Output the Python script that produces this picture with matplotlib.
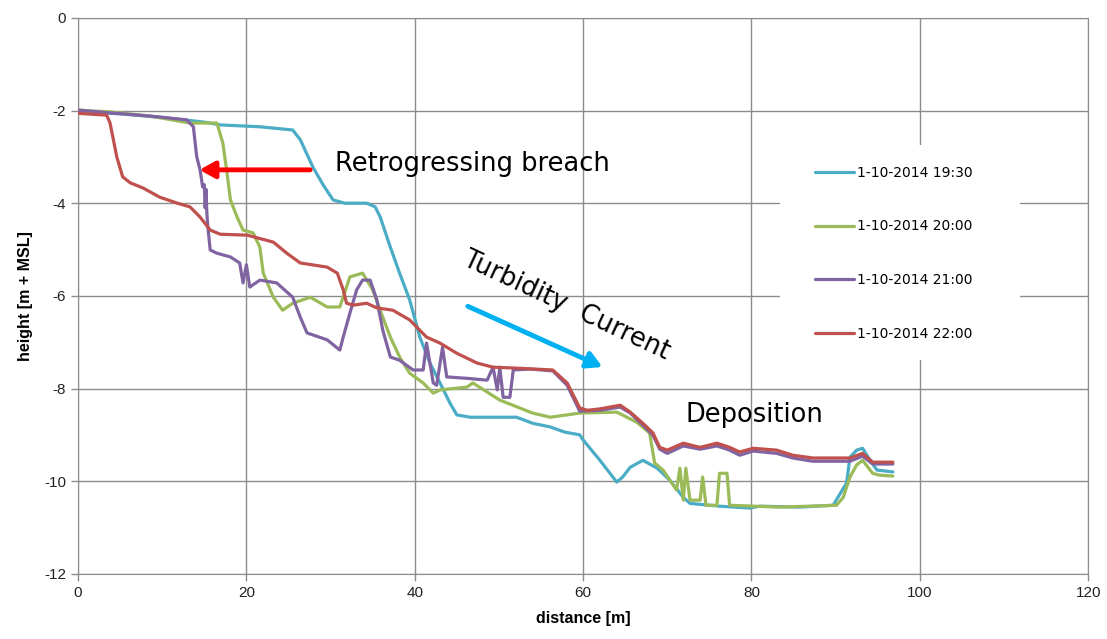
import numpy as np
import matplotlib
matplotlib.use("Agg")
from matplotlib import pyplot as plt
from matplotlib.patches import Rectangle

# profile 1-10-2014 19:30
x_1930 = [0, 2.6, 5, 10, 15, 16.9, 19.2, 21.6, 25.5, 26.4, 27.9, 29.1, 30.3, 31.7, 34.3, 35.3,
          35.9, 37.1, 38.2, 39.4, 40.6, 41.8, 43.0, 44.2, 45.0, 46.6, 50.1, 52.1, 54.0, 56.1,
          57.8, 59.6, 60.0, 62.0, 64.0, 64.7, 65.6, 67.1, 68.8, 70.3, 71.9, 72.7, 76.2, 79.8,
          81.0, 85.7, 89.7, 91.3, 91.7, 92.5, 93.2, 94.1, 94.9, 96.8]
y_1930 = [-2.0, -2.05, -2.07, -2.15, -2.25, -2.31, -2.33, -2.35, -2.42, -2.63, -3.22, -3.6, -3.93,
          -4.0, -4.0, -4.08, -4.3, -4.95, -5.51, -6.09, -6.89, -7.45, -7.88, -8.32, -8.57, -8.62,
          -8.62, -8.62, -8.75, -8.83, -8.94, -9.0, -9.11, -9.55, -10.02, -9.91, -9.7, -9.55,
          -9.72, -9.98, -10.35, -10.48, -10.54, -10.58, -10.54, -10.56, -10.52, -10.04, -9.48,
          -9.33, -9.29, -9.55, -9.76, -9.8]

# profile 1-10-2014 20:00
x_2000 = [0, 3.8, 8.6, 13.3, 16.5, 17.2, 17.7, 18.1, 18.9, 19.6, 20.8, 21.6, 22.0, 23.2, 24.3,
          25.5, 27.6, 29.6, 31.1, 32.3, 33.8, 35.0, 36.2, 37.1, 38.2, 39.4, 41.0, 42.2, 43.0,
          46.2, 46.9, 50.1, 54.0, 56.1, 59.6, 64.0, 66.4, 67.9, 68.5, 69.5, 71.1, 71.5, 71.9,
          72.2, 72.7, 73.9, 74.2, 74.6, 75.9, 76.2, 77.1, 77.4, 83.4, 90.1, 90.9, 91.7, 92.5,
          93.2, 94.4, 95.2, 96.8]
y_2000 = [-1.99, -2.03, -2.12, -2.27, -2.27, -2.7, -3.35, -3.93, -4.3, -4.58, -4.64, -4.95, -5.51,
          -6.03, -6.31, -6.16, -6.03, -6.24, -6.24, -5.59, -5.51, -5.87, -6.46, -6.89, -7.32,
          -7.67, -7.88, -8.1, -8.03, -7.97, -7.88, -8.25, -8.53, -8.62, -8.53, -8.51, -8.73,
          -8.96, -9.61, -9.76, -10.19, -9.72, -10.41, -9.72, -10.41, -10.41, -9.91, -10.52,
          -10.52, -9.83, -9.83, -10.52, -10.56, -10.52, -10.35, -9.91, -9.65, -9.55, -9.83,
          -9.87, -9.89]

# profile 1-10-2014 21:00
x_2100 = [0, 3.8, 8.6, 12.9, 13.7, 14.1, 14.5, 14.8, 15.0, 15.1, 15.2, 15.3, 15.4, 15.7, 16.5,
          18.1, 19.2, 19.6, 20.0, 20.4, 21.6, 23.6, 25.5, 26.4, 27.2, 29.6, 31.1, 31.5, 32.3,
          33.1, 33.8, 34.7, 35.5, 36.2, 37.1, 38.2, 39.8, 41.0, 41.4, 42.2, 42.6, 43.3, 43.8,
          46.2, 48.6, 49.3, 49.8, 50.1, 50.5, 51.3, 51.7, 53.7, 56.4, 58.1, 59.6, 62.0, 64.4,
          65.6, 67.1, 68.3, 69.1, 70.0, 71.9, 73.9, 75.9, 77.4, 78.6, 80.2, 83.0, 84.9, 87.3,
          91.7, 93.2, 94.4, 96.8]
y_2100 = [-1.99, -2.05, -2.12, -2.2, -2.35, -3.0, -3.28, -3.65, -3.6, -4.1, -3.7, -4.2, -4.47,
          -5.01, -5.08, -5.16, -5.29, -5.72, -5.33, -5.81, -5.66, -5.72, -6.03, -6.46, -6.8,
          -6.95, -7.17, -6.89, -6.37, -5.87, -5.66, -5.66, -6.09, -6.74, -7.32, -7.39, -7.6,
          -7.6, -7.02, -7.88, -7.93, -7.11, -7.75, -7.78, -7.82, -7.54, -8.03, -7.54, -8.19,
          -8.19, -7.6, -7.58, -7.62, -7.93, -8.49, -8.47, -8.4, -8.53, -8.79, -9.01, -9.31,
          -9.4, -9.24, -9.31, -9.24, -9.33, -9.44, -9.35, -9.4, -9.5, -9.57, -9.57, -9.46,
          -9.63, -9.63]

# profile 1-10-2014 22:00
x_2200 = [0, 3.4, 3.8, 4.2, 4.6, 5.3, 6.2, 7.7, 9.7, 11.8, 13.3, 14.5, 15.7, 16.9, 20.1, 23.2,
          24.8, 26.4, 29.6, 30.8, 31.5, 31.9, 32.7, 34.3, 35.5, 37.4, 39.4, 41.4, 43.0, 45.0,
          47.4, 49.3, 52.1, 56.4, 58.1, 59.6, 60.5, 62.0, 63.2, 64.4, 65.6, 67.1, 68.3, 69.1,
          70.0, 71.9, 73.9, 75.9, 77.4, 78.6, 80.2, 83.0, 84.9, 87.3, 91.7, 93.2, 94.4, 96.8]
y_2200 = [-2.06, -2.1, -2.27, -2.63, -3.0, -3.43, -3.56, -3.67, -3.87, -4.0, -4.08, -4.3, -4.58,
          -4.67, -4.69, -4.84, -5.08, -5.29, -5.38, -5.51, -5.87, -6.16, -6.2, -6.16, -6.26,
          -6.31, -6.52, -6.89, -7.02, -7.24, -7.45, -7.54, -7.56, -7.6, -7.88, -8.42, -8.47,
          -8.44, -8.4, -8.36, -8.51, -8.75, -8.96, -9.27, -9.33, -9.18, -9.27, -9.18, -9.27,
          -9.37, -9.29, -9.33, -9.44, -9.5, -9.5, -9.4, -9.59, -9.59]

labels = ['1-10-2014 19:30', '1-10-2014 20:00', '1-10-2014 21:00', '1-10-2014 22:00']
colors = ['#4BACC6', '#9BBB59', '#8064A2', '#C0504D']

plt.rcParams['font.family'] = ['Liberation Sans', 'DejaVu Sans']
plt.rcParams['axes.unicode_minus'] = False

fig = plt.figure(figsize=(11.07, 6.39), dpi=100)
ax = fig.add_axes([0.0705, 0.102, 0.9125, 0.870])

series = [(x_1930, y_1930), (x_2000, y_2000), (x_2100, y_2100), (x_2200, y_2200)]
for (xs, ys), lab, col in zip(series, labels, colors):
    ax.plot(xs, ys, color=col, linewidth=2.3, label=lab, solid_joinstyle='round',
            solid_capstyle='round', zorder=3)

ax.set_xlim(0, 120)
ax.set_ylim(-12, 0)
ax.set_xticks(np.arange(0, 121, 20))
ax.set_yticks(np.arange(-12, 1, 2))
ax.grid(color='#8c8c8c', linewidth=1.0)
ax.set_axisbelow(True)
for sp in ax.spines.values():
    sp.set_color('#8c8c8c')
ax.tick_params(colors='#8c8c8c', labelcolor='#222222', labelsize=11, length=5, width=1)

ax.set_xlabel('distance [m]', fontsize=11.5, fontweight='bold', labelpad=8)
ax.set_ylabel('height [m + MSL]', fontsize=11.5, fontweight='bold', labelpad=8)

# white box behind the legend hides the grid
ax.add_patch(Rectangle((0.695, 0.385), 0.2376, 0.387, transform=ax.transAxes,
                       facecolor='white', edgecolor='none', zorder=1))
leg = ax.legend(loc='upper left', bbox_to_anchor=(0.730, 0.734), borderaxespad=0,
                borderpad=0, labelspacing=2.86, handlelength=2.8, handletextpad=0.2,
                prop={'family': 'DejaVu Sans', 'size': 10}, frameon=False)

# annotations
big = {'family': 'DejaVu Sans', 'size': 18.5}
ax.text(30.5, -3.30, 'Retrogressing breach', fontdict=big, ha='left', va='baseline', zorder=4)
ax.annotate('', xy=(14.1, -3.28), xytext=(27.9, -3.28),
            arrowprops=dict(arrowstyle='-|>,head_length=0.9,head_width=0.5', color='#FF0000', lw=3.5))

ax.text(58.0, -6.22, 'Turbidity  Current', fontdict=big, ha='center', va='center',
        rotation=-25, rotation_mode='anchor', zorder=4)
ax.annotate('', xy=(62.6, -7.56), xytext=(46.0, -6.2),
            arrowprops=dict(arrowstyle='-|>,head_length=0.9,head_width=0.5', color='#00B0F0', lw=3.5))

ax.text(80.3, -8.72, 'Deposition', fontdict=big, ha='center', va='baseline', zorder=4)

fig.savefig('out.png', dpi=100)
